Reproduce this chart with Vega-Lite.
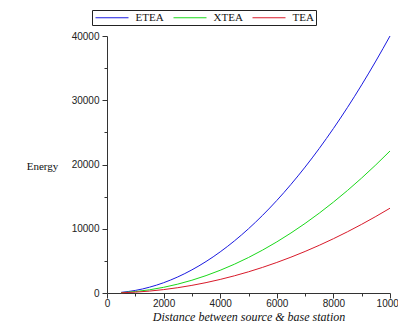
{
  "$schema": "https://vega.github.io/schema/vega-lite/v6.json",
  "width": 283,
  "height": 257,
  "autosize": {"type": "none"},
  "padding": {"left": 107, "top": 36, "right": 8, "bottom": 29},
  "background": "white",
  "config": {
    "view": {"stroke": null},
    "axis": {
      "grid": false,
      "domainColor": "#333333",
      "tickColor": "#333333",
      "labelFont": "Liberation Sans",
      "labelFontSize": 10,
      "labelColor": "#222222",
      "titleFont": "Liberation Serif",
      "titleFontWeight": "normal",
      "titleColor": "#111111",
      "labelOverlap": false,
      "labelBound": false
    }
  },
  "data": {
    "values": [
      {"d": 500, "ETEA": 100, "XTEA": 55, "TEA": 33},
      {"d": 1000, "ETEA": 400, "XTEA": 221, "TEA": 132},
      {"d": 1500, "ETEA": 900, "XTEA": 497, "TEA": 297},
      {"d": 2000, "ETEA": 1600, "XTEA": 884, "TEA": 528},
      {"d": 2500, "ETEA": 2500, "XTEA": 1381, "TEA": 825},
      {"d": 3000, "ETEA": 3600, "XTEA": 1989, "TEA": 1188},
      {"d": 3500, "ETEA": 4900, "XTEA": 2707, "TEA": 1617},
      {"d": 4000, "ETEA": 6400, "XTEA": 3536, "TEA": 2112},
      {"d": 4500, "ETEA": 8100, "XTEA": 4475, "TEA": 2673},
      {"d": 5000, "ETEA": 10000, "XTEA": 5525, "TEA": 3300},
      {"d": 5500, "ETEA": 12100, "XTEA": 6685, "TEA": 3993},
      {"d": 6000, "ETEA": 14400, "XTEA": 7956, "TEA": 4752},
      {"d": 6500, "ETEA": 16900, "XTEA": 9337, "TEA": 5577},
      {"d": 7000, "ETEA": 19600, "XTEA": 10829, "TEA": 6468},
      {"d": 7500, "ETEA": 22500, "XTEA": 12431, "TEA": 7425},
      {"d": 8000, "ETEA": 25600, "XTEA": 14144, "TEA": 8448},
      {"d": 8500, "ETEA": 28900, "XTEA": 15967, "TEA": 9537},
      {"d": 9000, "ETEA": 32400, "XTEA": 17901, "TEA": 10692},
      {"d": 9500, "ETEA": 36100, "XTEA": 19945, "TEA": 11913},
      {"d": 10000, "ETEA": 40000, "XTEA": 22100, "TEA": 13200}
    ]
  },
  "transform": [
    {"fold": ["ETEA", "XTEA", "TEA"], "as": ["scheme", "energy"]}
  ],
  "mark": {"type": "line", "strokeWidth": 1, "interpolate": "monotone"},
  "encoding": {
    "x": {
      "field": "d",
      "type": "quantitative",
      "scale": {"domain": [0, 10000], "nice": false, "zero": true},
      "axis": {
        "title": "Distance between source & base station",
        "titleFontStyle": "italic",
        "titleFontSize": 12,
        "titlePadding": 3,
        "values": [0, 1000, 2000, 3000, 4000, 5000, 6000, 7000, 8000, 9000, 10000],
        "format": "d",
        "labelExpr": "datum.value % 2000 === 0 ? datum.label : ''",
        "labelFlush": false,
        "labelPadding": 0,
        "tickSize": {"condition": {"test": "datum.value % 2000 === 0", "value": 5}, "value": 3}
      }
    },
    "y": {
      "field": "energy",
      "type": "quantitative",
      "scale": {"domain": [0, 40000], "nice": false},
      "axis": {
        "title": "Energy",
        "titleAngle": 0,
        "titleX": -65,
        "titleY": 130,
        "titleAlign": "center",
        "titleBaseline": "middle",
        "titleFontSize": 11,
        "values": [0, 5000, 10000, 15000, 20000, 25000, 30000, 35000, 40000],
        "format": "d",
        "labelExpr": "datum.value % 10000 === 0 ? datum.label : ''",
        "labelPadding": 3,
        "tickSize": {"condition": {"test": "datum.value % 10000 === 0", "value": 5}, "value": 3}
      }
    },
    "color": {
      "field": "scheme",
      "type": "nominal",
      "scale": {"domain": ["ETEA", "XTEA", "TEA"], "range": ["#1a1ae0", "#1ad81a", "#d81a2a"]},
      "legend": {
        "title": null,
        "orient": "none",
        "legendX": -15,
        "legendY": -26,
        "direction": "horizontal",
        "symbolType": "M-4.125,0H4.125",
        "symbolSize": 64,
        "symbolOffset": 12.5,
        "symbolStrokeWidth": 1,
        "labelFont": "Liberation Serif",
        "labelFontSize": 11,
        "labelColor": "#111111",
        "labelOffset": 18,
        "columnPadding": 7,
        "padding": 2,
        "strokeColor": "#222222",
        "fillColor": "white"
      }
    }
  }
}
